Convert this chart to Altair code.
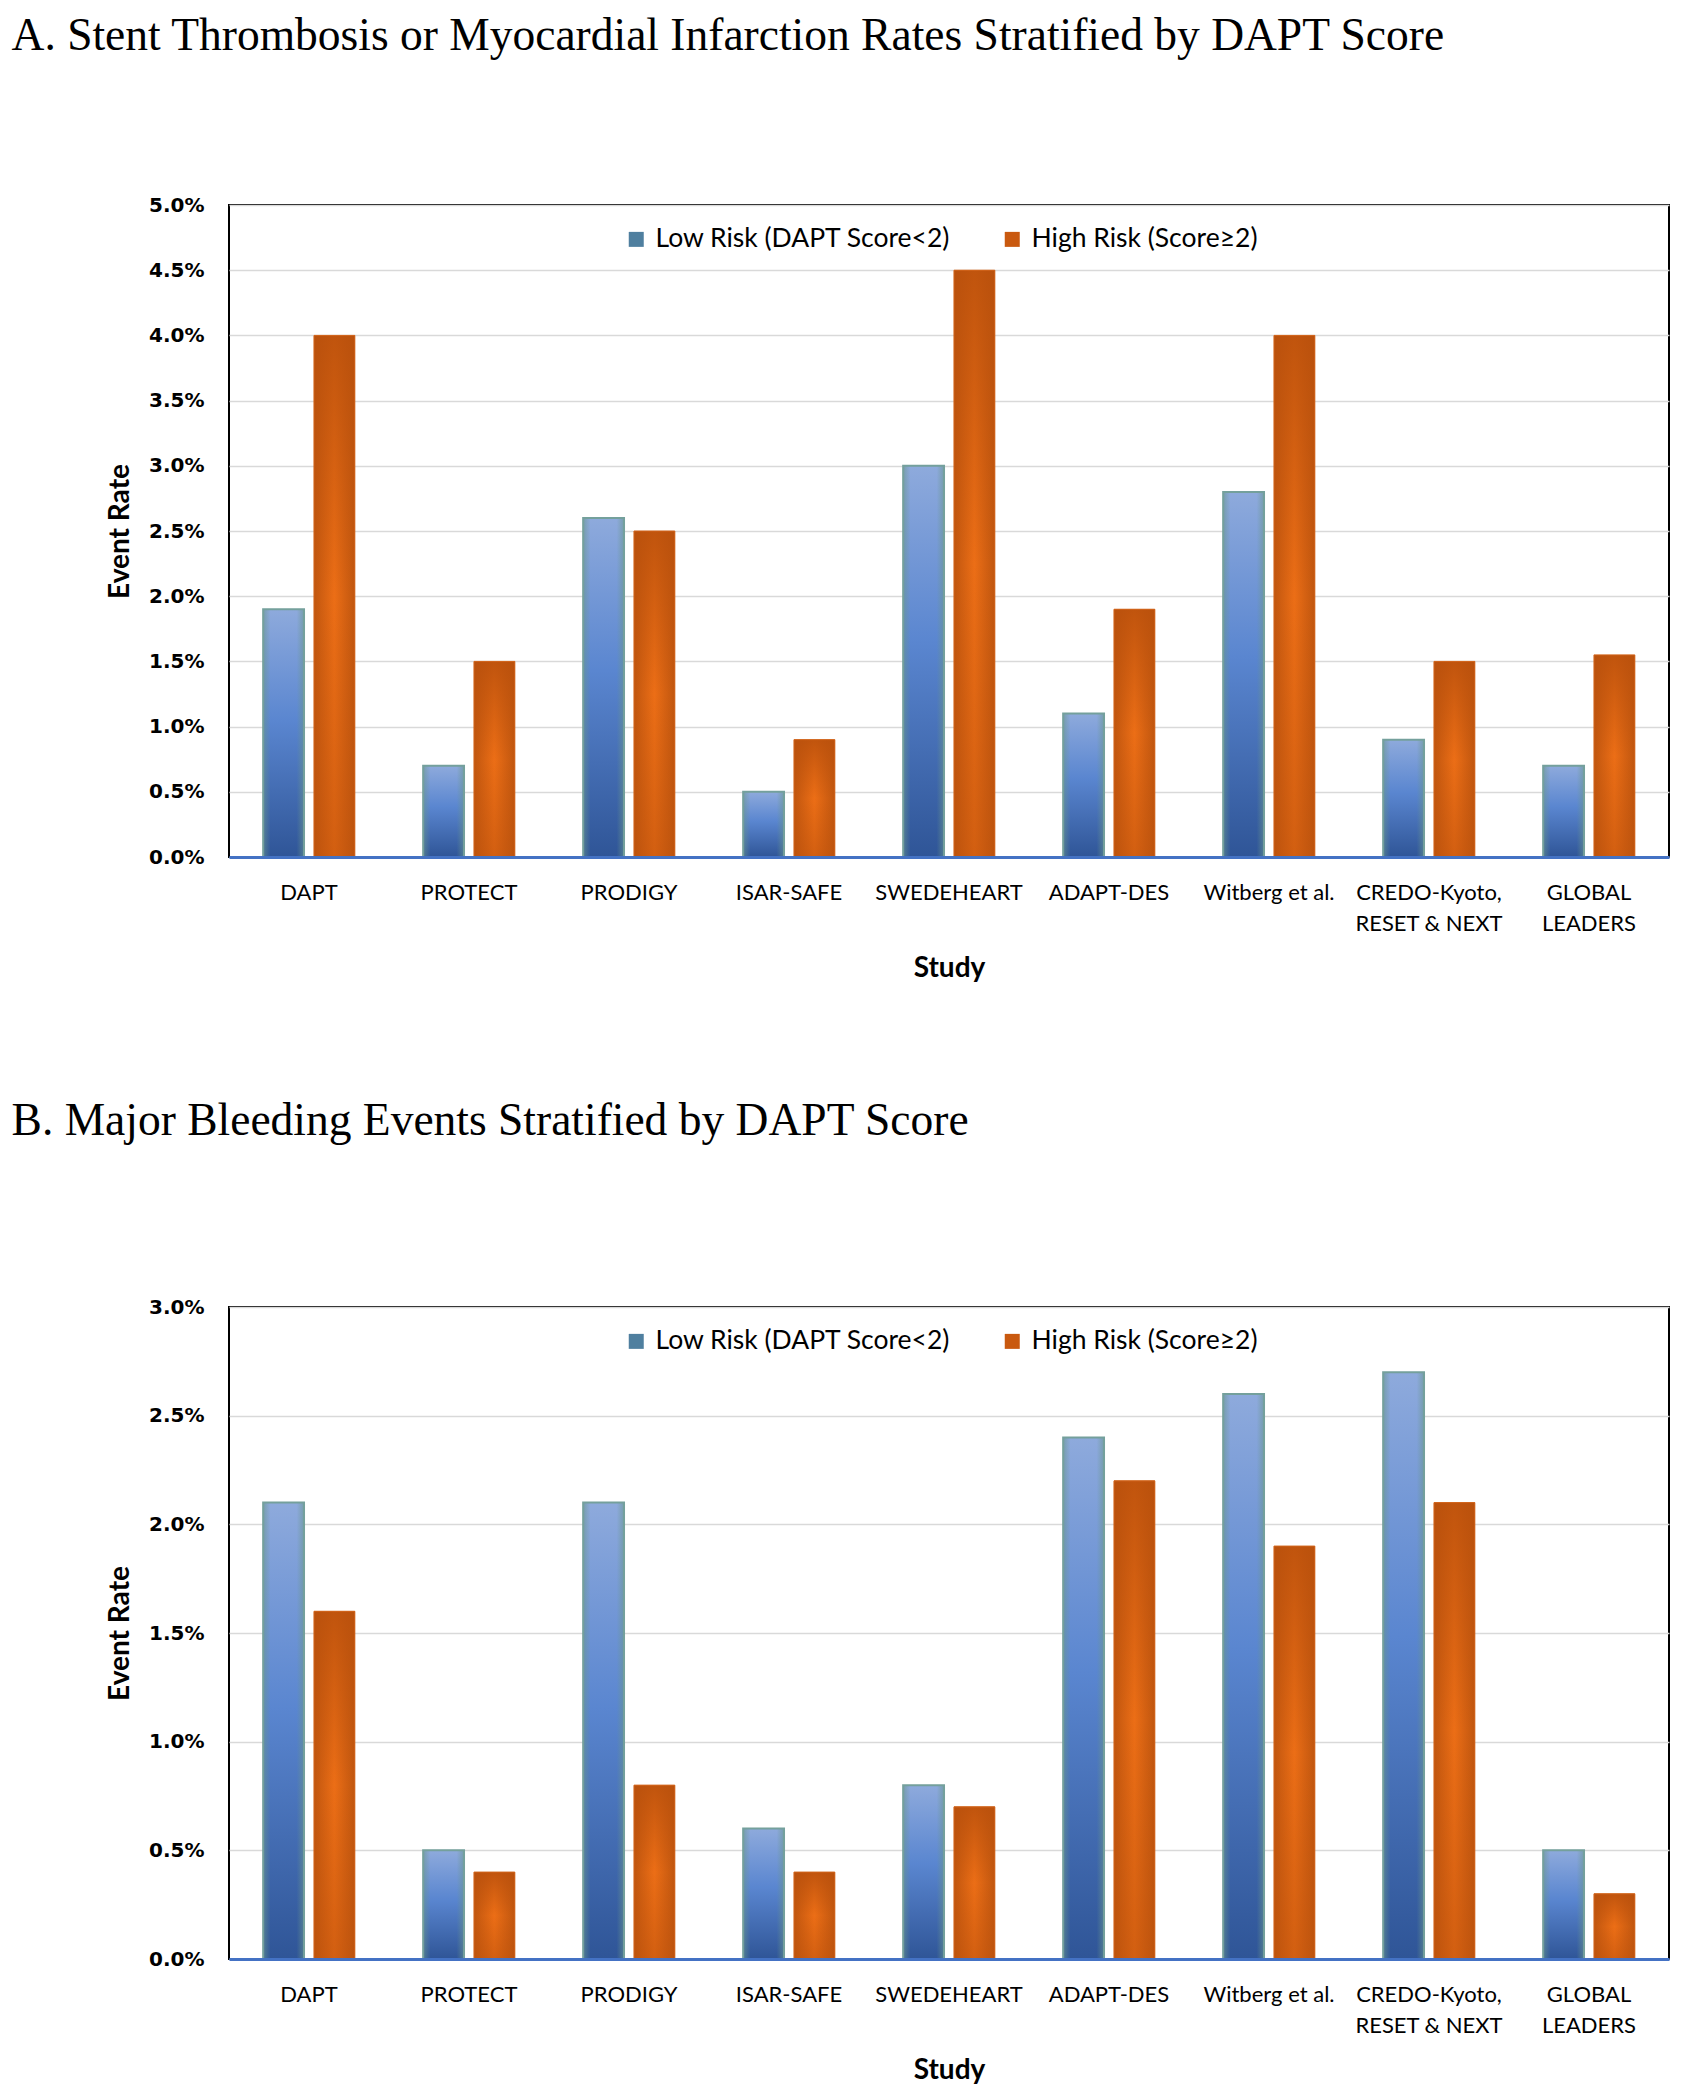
import altair as alt
import pandas as pd

studies = ["DAPT", "PROTECT", "PRODIGY", "ISAR-SAFE", "SWEDEHEART", "ADAPT-DES",
           "Witberg et al.", "CREDO-Kyoto,|RESET & NEXT", "GLOBAL|LEADERS"]
groups = ["Low Risk (DAPT Score<2)", "High Risk (Score≥2)"]

# Panel A: stent thrombosis / MI event rates (%)
a_low = [1.9, 0.7, 2.6, 0.5, 3.0, 1.1, 2.8, 0.9, 0.7]
a_high = [4.0, 1.5, 2.5, 0.9, 4.5, 1.9, 4.0, 1.5, 1.55]
# Panel B: major bleeding event rates (%)
b_low = [2.1, 0.5, 2.1, 0.6, 0.8, 2.4, 2.6, 2.7, 0.5]
b_high = [1.6, 0.4, 0.8, 0.4, 0.7, 2.2, 1.9, 2.1, 0.3]

a_ticks = [0, 0.005, 0.01, 0.015, 0.02, 0.025, 0.03, 0.035, 0.04, 0.045, 0.05]
b_ticks = [0, 0.005, 0.01, 0.015, 0.02, 0.025, 0.03]

title_a = "A. Stent Thrombosis or Myocardial Infarction Rates Stratified by DAPT Score"
title_b = "B. Major Bleeding Events Stratified by DAPT Score"

W, H = 1440, 652

blue_base = {"gradient": "linear", "x1": 0, "y1": 0, "x2": 0, "y2": 1,
             "stops": [{"offset": 0, "color": "#8eaadc"},
                       {"offset": 0.45, "color": "#5a86d0"},
                       {"offset": 1, "color": "#2f5597"}]}
blue_over = {"gradient": "linear", "x1": 0, "y1": 0, "x2": 1, "y2": 0,
             "stops": [{"offset": 0, "color": "rgba(105,150,140,0.6)"},
                       {"offset": 0.18, "color": "rgba(105,150,140,0)"},
                       {"offset": 0.82, "color": "rgba(105,150,140,0)"},
                       {"offset": 1, "color": "rgba(105,150,140,0.6)"}]}
orange_base = {"gradient": "linear", "x1": 0, "y1": 0, "x2": 1, "y2": 0,
               "stops": [{"offset": 0, "color": "#c0560f"},
                         {"offset": 0.5, "color": "#ec6e16"},
                         {"offset": 1, "color": "#c0560f"}]}
orange_over = {"gradient": "linear", "x1": 0, "y1": 0, "x2": 0, "y2": 1,
               "stops": [{"offset": 0, "color": "rgba(185,80,12,0.85)"},
                         {"offset": 0.5, "color": "rgba(185,80,12,0)"},
                         {"offset": 1, "color": "rgba(185,80,12,0.5)"}]}


def panel(low, high, ymax, ticks, title_text, offset):
    df = pd.DataFrame({
        "study": studies * 2,
        "group": [groups[0]] * len(studies) + [groups[1]] * len(studies),
        "rate": [v / 100 for v in low + high],
    })
    base = alt.Chart(df).encode(
        x=alt.X("study:N", sort=studies, title="Study",
                scale=alt.Scale(paddingInner=0.427, paddingOuter=0.2135),
                axis=alt.Axis(labelAngle=0, labelFont="Lato", labelFontSize=22,
                              labelColor="black", labelPadding=25, labelLineHeight=31,
                              labelExpr="split(datum.label, '|')",
                              ticks=False, domainColor="#4472c4", domainWidth=3,
                              titleFont="Lato", titleFontSize=28, titleFontWeight="bold",
                              titleColor="black", titlePadding=20, zindex=1, grid=False)),
        xOffset=alt.XOffset("group:N", sort=groups,
                            scale=alt.Scale(domain=groups, paddingInner=0.196, paddingOuter=0)),
        y=alt.Y("rate:Q", title="Event Rate",
                scale=alt.Scale(domain=[0, ymax], nice=False),
                axis=alt.Axis(values=ticks, format=".1%", labelFont="DejaVu Sans",
                              labelFontWeight="bold", labelFontSize=20, labelColor="black",
                              labelPadding=25, ticks=False, domain=False,
                              gridColor="#d9d9d9", gridWidth=1.5,
                              titleFont="Lato", titleFontSize=28, titleFontWeight="bold",
                              titleColor="black", titlePadding=14)),
    )
    flat = base.mark_bar().encode(
        color=alt.Color("group:N", sort=groups,
                        scale=alt.Scale(domain=groups, range=["#4f7f9f", "#c9590f"]),
                        legend=alt.Legend(title=None, orient="none", direction="horizontal",
                                          legendX=394, legendY=21, symbolType="square",
                                          symbolSize=225, symbolStrokeWidth=0,
                                          labelFont="Lato", labelFontSize=26.5,
                                          labelColor="black", labelOffset=6,
                                          columnPadding=48, padding=0, labelLimit=400))
    )
    low_f = base.transform_filter(alt.datum.group == groups[0])
    high_f = base.transform_filter(alt.datum.group == groups[1])
    blue1 = low_f.mark_bar(fill=blue_base, strokeWidth=0)
    blue2 = low_f.mark_bar(fill=blue_over, stroke="#74a09c", strokeWidth=2)
    or1 = high_f.mark_bar(fill=orange_base, strokeWidth=0)
    or2 = high_f.mark_bar(fill=orange_over, stroke="#d2651c", strokeWidth=1)
    return alt.layer(flat, blue1, blue2, or1, or2).properties(
        width=W, height=H,
        title=alt.TitleParams(title_text, anchor="start", font="Liberation Serif",
                              fontSize=45.5, fontWeight="normal", color="black",
                              offset=offset, dx=-95),
    )


chart = alt.vconcat(
    panel(a_low, a_high, 0.05, a_ticks, title_a, 136),
    panel(b_low, b_high, 0.03, b_ticks, title_b, 153),
    spacing=114,
).resolve_scale(color="independent", x="independent", y="independent", xOffset="independent"
).resolve_legend(color="independent").configure(
    padding={"left": 2, "top": 4, "right": 0, "bottom": 0}, background="white"
).configure_view(stroke="black", strokeWidth=2)

chart.save("out.html", embed_options={"renderer": "svg", "actions": False})
